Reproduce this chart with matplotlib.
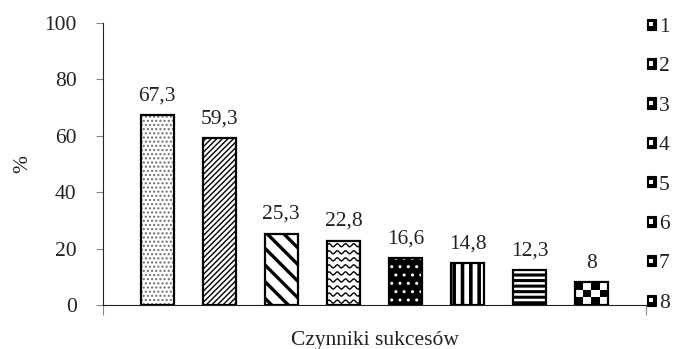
import numpy as np
import matplotlib
matplotlib.use('Agg')
import matplotlib.pyplot as plt
from matplotlib.patches import Rectangle
from matplotlib.legend_handler import HandlerBase

plt.rcParams['font.family'] = ['Liberation Serif', 'DejaVu Serif']
plt.rcParams['font.size'] = 15.5

# Success factors, share of answers in %
factors = ['1', '2', '3', '4', '5', '6', '7', '8']
shares = [67.3, 59.3, 25.3, 22.8, 16.6, 14.8, 12.3, 8.0]
value_labels = ['67,3', '59,3', '25,3', '22,8', '16,6', '14,8', '12,3', '8']
y_ticks = [0, 20, 40, 60, 80, 100]

# fill style per bar: (facecolor, hatch colour, hatch, hatch linewidth)
styles = [
    ('white', '#6e6e6e', '....', 1.0),
    ('white', 'black', '//////', 1.0),
    ('white', 'black', '\\\\', 2.4),
    ('white', 'black', None, 1.0),     # wavy lines, drawn below
    ('black', 'white', '..', 1.0),
    ('white', 'black', '||', 2.6),
    ('white', 'black', '---', 2.2),
    ('white', 'black', None, 1.0),     # checkerboard, drawn below
]

TXT = '#222222'

fig = plt.figure(figsize=(6.99, 3.49), dpi=100)
ax = fig.add_axes([103 / 699, 44 / 349, 543 / 699, 282 / 349])

x = np.arange(len(shares))
width = 0.53

outlines = []
for i, (val, st) in enumerate(zip(shares, styles)):
    face, hcol, hatch, hlw = st
    with plt.rc_context({'hatch.linewidth': hlw}):
        ax.bar(x[i], val, width, color=face, edgecolor=hcol, linewidth=0,
               hatch=hatch, zorder=2)
    b = ax.bar(x[i], val, width, fill=False, edgecolor='black',
               linewidth=1.6, zorder=4)
    outlines.append(b[0])

# wavy fill for bar 4
bar4 = outlines[3]
x0, w4, h4 = bar4.get_x(), bar4.get_width(), bar4.get_height()
xs = np.linspace(x0, x0 + w4, 200)
for yl in np.arange(1.2, h4 + 2, 2.5):
    ln, = ax.plot(xs, yl + 0.55 * np.sin((xs - x0) / w4 * 2 * np.pi * 4),
                  color='black', lw=1.0, zorder=3)
    ln.set_clip_path(bar4)

# checkerboard fill for bar 8
bar8 = outlines[7]
board = np.indices((3, 4)).sum(axis=0) % 2
im = ax.imshow(board, cmap='gray', interpolation='nearest', aspect='auto',
               extent=(bar8.get_x(), bar8.get_x() + bar8.get_width(),
                       0, bar8.get_height()), zorder=3)
im.set_clip_path(bar8)

for i, (val, lab) in enumerate(zip(shares, value_labels)):
    ax.annotate(lab, xy=(x[i], val), xytext=(0, 7), textcoords='offset points',
                ha='center', va='bottom', color=TXT)

ax.set_xlim(-0.87, len(shares) - 1 + 0.87)
ax.set_ylim(0, 100)
ax.set_yticks(y_ticks)
ax.set_xticks([-0.87, len(shares) - 1 + 0.87])
ax.set_xticklabels([])
ax.tick_params(axis='y', direction='out', length=5, color='#888888',
               labelcolor=TXT, pad=14)
ax.tick_params(axis='x', direction='out', length=7, color='#888888')
for s in ['top', 'right']:
    ax.spines[s].set_visible(False)
ax.spines['left'].set_color(TXT)
ax.spines['bottom'].set_color(TXT)

ax.set_ylabel('%', labelpad=8.5, color=TXT)
ax.set_xlabel('Czynniki sukcesów', labelpad=8, color=TXT)


class SmallKey(HandlerBase):
    # black square key with a small white mark in it
    def create_artists(self, legend, orig_handle, xdescent, ydescent,
                       width, height, fontsize, trans):
        outer = Rectangle((-xdescent, -ydescent), width, height,
                          facecolor='black', edgecolor='black', lw=0.8,
                          transform=trans)
        inner = Rectangle((-xdescent + width * 0.3, -ydescent + height * 0.3),
                          width * 0.4, height * 0.4, facecolor='white',
                          edgecolor='none', transform=trans)
        return [outer, inner]


keys = [Rectangle((0, 0), 1, 1) for _ in factors]
fig.legend(keys, factors, handler_map={Rectangle: SmallKey()},
           loc='upper left', bbox_to_anchor=(636 / 699, 1 - 7 / 349),
           frameon=False, handlelength=0.42, handleheight=0.42, handletextpad=0.15,
           labelspacing=0.95, borderpad=0, labelcolor=TXT)

fig.savefig('out.png', dpi=100)
